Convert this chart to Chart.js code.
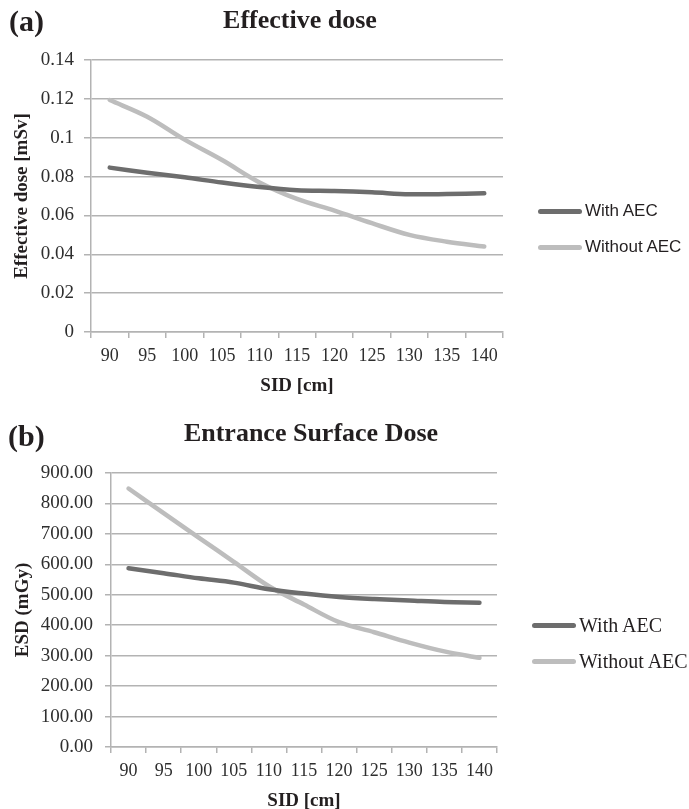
<!DOCTYPE html>
<html>
<head>
<meta charset="utf-8">
<script src="https://cdn.jsdelivr.net/npm/chart.js@4/dist/chart.umd.min.js"></script>
<style>
  html, body { margin: 0; padding: 0; background: #fff; }
  body { width: 689px; height: 809px; position: relative; overflow: hidden; font-family: "Liberation Serif", serif; color: #231f20; }
  canvas { position: absolute; left: 0; }
  .panel { position: absolute; font-weight: bold; font-size: 30px; line-height: 30px; }
  .title { position: absolute; font-weight: bold; font-size: 26px; line-height: 30px; transform: translateX(-50%); white-space: nowrap; }
  .legend { position: absolute; }
  .legend div { position: absolute; white-space: nowrap; display: flex; align-items: center; }
  .legend span.sw { display: inline-block; width: 44px; height: 5px; border-radius: 3px; }
</style>
</head>
<body>
<canvas id="effChart" width="689" height="400" style="top:0"></canvas>
<canvas id="esdChart" width="689" height="412" style="top:400px"></canvas>

<div class="panel" style="left:9px; top:6px">(a)</div>
<div class="title" style="left:300px; top:5px">Effective dose</div>
<div class="panel" style="left:8px; top:421px">(b)</div>
<div class="title" style="left:311px; top:418px">Entrance Surface Dose</div>

<div class="legend" id="effLegend"></div>
<div class="legend" id="esdLegend"></div>

<script>
  // SID categories shared by both panels
  const sid = ["90", "95", "100", "105", "110", "115", "120", "125", "130", "135", "140"];

  // (a) effective dose [mSv]
  const effWithAEC = [0.0846, 0.0820, 0.0796, 0.0769, 0.0746, 0.0730, 0.0726, 0.0719, 0.0709, 0.0710, 0.0714];
  const effWithoutAEC = [0.1194, 0.1108, 0.0990, 0.0885, 0.0770, 0.0685, 0.0625, 0.0560, 0.0500, 0.0465, 0.0440];
  const effTicks = ["0", "0.02", "0.04", "0.06", "0.08", "0.1", "0.12", "0.14"];

  // (b) entrance surface dose [mGy]
  const esdWithAEC = [587, 571, 554, 540, 518, 504, 493, 486, 481, 476, 474];
  const esdWithoutAEC = [849, 768, 688, 608, 528, 468, 410, 377, 343, 314, 293];
  const esdTicks = ["0.00", "100.00", "200.00", "300.00", "400.00", "500.00", "600.00", "700.00", "800.00", "900.00"];

  const seriesNames = ["With AEC", "Without AEC"];
  const seriesColors = ["#6d6d6d", "#bdbdbd"];

  const gridColor = "#b3b3b3";
  const tickColor = "#2e2e2e";

  function makeChart(id, a, b, tickLabels, yMax, step, yTitle, box) {
    return new Chart(document.getElementById(id), {
      type: "line",
      data: {
        labels: sid,
        datasets: [a, b].map((vals, i) => ({
          label: seriesNames[i],
          data: vals,
          borderColor: seriesColors[i],
          borderWidth: 4.5,
          borderCapStyle: "round",
          pointRadius: 0,
          tension: 0.35,
          fill: false
        }))
      },
      options: {
        responsive: false,
        animation: false,
        layout: { padding: { top: box.top, right: box.right, left: 0, bottom: 0 } },
        plugins: { legend: { display: false }, tooltip: { enabled: false } },
        scales: {
          x: {
            offset: true,
            grid: { offset: true, drawOnChartArea: false, color: gridColor, tickLength: 6, lineWidth: 1.5 },
            border: { color: gridColor, width: 1.5 },
            ticks: { color: tickColor, font: { family: "Liberation Serif", size: 18 }, padding: 7, maxRotation: 0, autoSkip: false },
            title: { display: true, text: "SID [cm]", color: "#231f20", font: { family: "Liberation Serif", size: 19, weight: "bold" }, padding: { top: 0, bottom: box.xTitlePad } },
            afterFit: s => { s.height = box.xHeight; }
          },
          y: {
            min: 0,
            max: yMax,
            ticks: {
              stepSize: step,
              color: tickColor,
              font: { family: "Liberation Serif", size: 19 },
              padding: box.yPad,
              callback: (v, i) => tickLabels[i]
            },
            grid: { color: gridColor, lineWidth: 1.5, tickLength: box.yTick },
            border: { color: gridColor, width: 1.5 },
            title: { display: true, text: yTitle, color: "#231f20", font: { family: "Liberation Serif", size: 19, weight: "bold" }, padding: { top: box.yTitlePad, bottom: 0 } },
            afterFit: s => { s.width = box.yWidth; }
          }
        }
      }
    });
  }

  makeChart("effChart", effWithAEC, effWithoutAEC, effTicks, 0.14, 0.02, "Effective dose [mSv]",
    { top: 60, right: 186, xHeight: 68, xTitlePad: 3, yWidth: 91, yPad: 10, yTick: 7, yTitlePad: 11 });
  makeChart("esdChart", esdWithAEC, esdWithoutAEC, esdTicks, 900, 100, "ESD (mGy)",
    { top: 73, right: 192, xHeight: 65, xTitlePad: 0, yWidth: 111, yPad: 12, yTick: 6, yTitlePad: 12 });

  // legends to the right of each plot
  function renderLegend(id, left, tops, font) {
    const el = document.getElementById(id);
    seriesNames.forEach((name, i) => {
      const row = document.createElement("div");
      row.style.left = left + "px";
      row.style.top = (tops[i] - 12) + "px";
      row.style.height = "24px";
      row.style.font = font;
      row.innerHTML = `<span class="sw" style="background:${seriesColors[i]}"></span><span style="margin-left:3px">${name}</span>`;
      el.appendChild(row);
    });
  }
  renderLegend("effLegend", 538, [211, 247], '17px "Liberation Sans"');
  renderLegend("esdLegend", 532, [625, 661], '20px "Liberation Serif"');
</script>
</body>
</html>
